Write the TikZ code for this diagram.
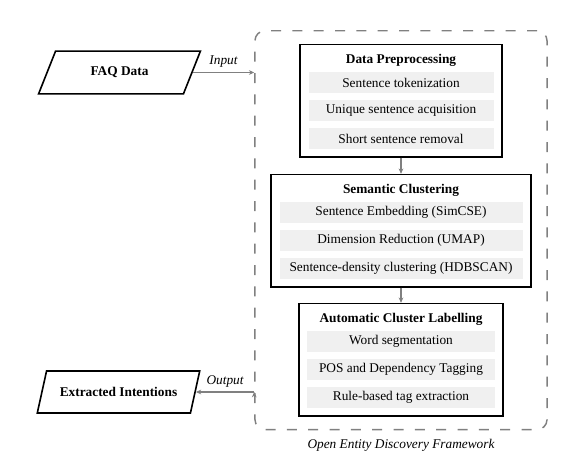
\documentclass[tikz,border=0pt]{standalone}
\usepackage{fontspec}
\setmainfont{Liberation Serif}
\usetikzlibrary{positioning, fit, shapes.geometric, arrows.meta}

\begin{document}
\begin{tikzpicture}[x=0.75pt, y=-0.75pt, node distance=21pt, on grid,
    io/.style={draw, line width=1.2pt, trapezium, trapezium left angle=66, trapezium right angle=114, trapezium stretches=true, minimum width=122pt, minimum height=32pt, font=\bfseries},
    title/.style={font=\bfseries, inner sep=0pt, text height=8pt, text depth=2pt},
    item/.style={fill=black!6, minimum height=15.75pt, inner sep=0pt},
    stage/.style={draw, line width=1.2pt, inner xsep=6pt, inner ysep=5.6pt},
    frame/.style={draw=gray, line width=1.1pt, dash pattern=on 7.5pt off 8.5pt, rounded corners=7.5pt, inner xsep=11.6pt, inner ysep=9.8pt},
    flow/.style={draw=gray, line width=0.8pt, -{Stealth[length=4pt, width=3.5pt]}}]

    \useasboundingbox (0,0) rectangle (575,468);

    % Define the stages (nodes)
    \node[title] (t1) at (401,59) {Data Preprocessing};
    \node[item, minimum width=138.75pt, below=17.6pt of t1] (a1) {Sentence tokenization};
    \node[item, minimum width=138.75pt, below=of a1] (b1) {Unique sentence acquisition};
    \node[item, minimum width=138.75pt, below=of b1] (c1) {Short sentence removal};
    \node[stage, fit=(t1)(a1)(c1)] (s1) {};

    \node[title] (t2) at (401,189) {Semantic Clustering};
    \node[item, minimum width=182.25pt, below=17.6pt of t2] (a2) {Sentence Embedding (SimCSE)};
    \node[item, minimum width=182.25pt, below=of a2] (b2) {Dimension Reduction (UMAP)};
    \node[item, minimum width=182.25pt, below=of b2] (c2) {Sentence-density clustering (HDBSCAN)};
    \node[stage, fit=(t2)(a2)(c2)] (s2) {};

    \node[title] (t3) at (401,318) {Automatic Cluster Labelling};
    \node[item, minimum width=141pt, below=17.6pt of t3] (a3) {Word segmentation};
    \node[item, minimum width=141pt, below=of a3] (b3) {POS and Dependency Tagging};
    \node[item, minimum width=141pt, below=of b3] (c3) {Rule-based tag extraction};
    \node[stage, fit=(t3)(a3)(c3)] (s3) {};

    % The framework around the stages
    \node[frame, fit=(s1)(s2)(s3)] (frame) {};
    \node[font=\itshape] (fname) at ([yshift=-11.5pt]frame.south) {Open Entity Discovery Framework};

    % Input and output
    \node[io] (faq) at (119.5,72.5) {FAQ Data};
    \node[io, minimum height=31.5pt] (out) at (118.5,392) {Extracted Intentions};

    % Define the connections
    \path[flow]
    (faq.east) edge node[above, font=\itshape] {Input} (faq.east -| frame.west)
    (s1) edge (s2)
    (s2) edge (s3)
    (out.east -| frame.west) edge node[above, font=\itshape] {Output} (out.east);
\end{tikzpicture}
\end{document}
